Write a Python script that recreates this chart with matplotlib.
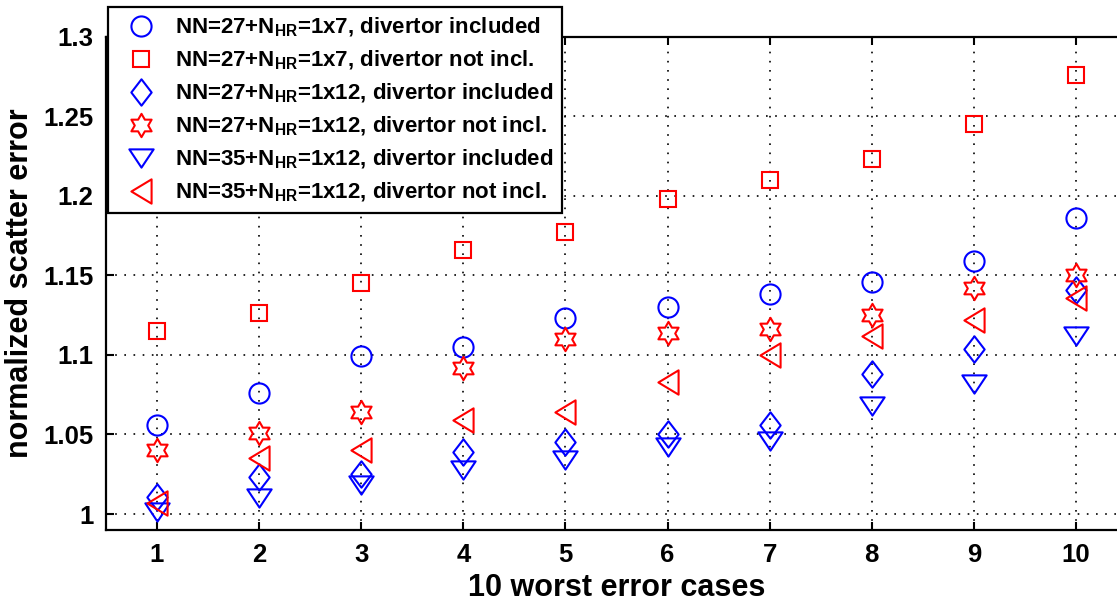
import numpy as np
import matplotlib
matplotlib.use("Agg")
import matplotlib.pyplot as plt
from matplotlib.path import Path

plt.rcParams['font.family'] = ['Liberation Sans', 'DejaVu Sans']
plt.rcParams['font.weight'] = 'bold'
plt.rcParams['mathtext.default'] = 'regular'

# ---- data -------------------------------------------------------------
cases = [1, 2, 3, 4, 5, 6, 7, 8, 9, 10]

nn27_1x7_div = [1.056, 1.076, 1.099, 1.105, 1.123, 1.130, 1.138, 1.146, 1.159, 1.186]
nn27_1x7_nodiv = [1.115, 1.126, 1.145, 1.166, 1.177, 1.198, 1.210, 1.223, 1.245, 1.276]
nn27_1x12_div = [1.011, 1.023, 1.025, 1.039, 1.045, 1.050, 1.056, 1.088, 1.104, 1.141]
nn27_1x12_nodiv = [1.040, 1.051, 1.064, 1.092, 1.110, 1.114, 1.116, 1.125, 1.142, 1.150]
nn35_1x12_div = [1.001, 1.010, 1.018, 1.028, 1.034, 1.042, 1.046, 1.068, 1.082, 1.112]
nn35_1x12_nodiv = [1.007, 1.035, 1.040, 1.059, 1.064, 1.083, 1.100, 1.112, 1.122, 1.136]

labels = [
    r'NN=27+N$_{HR}$=1x7, divertor included',
    r'NN=27+N$_{HR}$=1x7, divertor not incl.',
    r'NN=27+N$_{HR}$=1x12, divertor included',
    r'NN=27+N$_{HR}$=1x12, divertor not incl.',
    r'NN=35+N$_{HR}$=1x12, divertor included',
    r'NN=35+N$_{HR}$=1x12, divertor not incl.',
]

yticks = [1.0, 1.05, 1.1, 1.15, 1.2, 1.25, 1.3]
ytick_labels = ['1', '1.05', '1.1', '1.15', '1.2', '1.25', '1.3']

# ---- marker shapes ----------------------------------------------------
diamond = Path([(0, 1), (0.77, 0), (0, -1), (-0.77, 0), (0, 1)],
               [Path.MOVETO, Path.LINETO, Path.LINETO, Path.LINETO, Path.CLOSEPOLY])
ang = np.deg2rad(90 + 30 * np.arange(12))
rad = np.where(np.arange(12) % 2 == 0, 1.0, 1 / np.sqrt(3))
star_v = np.column_stack([rad * np.cos(ang), rad * np.sin(ang)])
star_v = np.vstack([star_v, star_v[:1]])
hexagram = Path(star_v, [Path.MOVETO] + [Path.LINETO] * 11 + [Path.CLOSEPOLY])
tri_down = Path([(0, -0.75), (1, 0.75), (-1, 0.75), (0, -0.75)],
                [Path.MOVETO, Path.LINETO, Path.LINETO, Path.CLOSEPOLY])
tri_left = Path([(-0.83, 0), (0.83, 1), (0.83, -1), (-0.83, 0)],
                [Path.MOVETO, Path.LINETO, Path.LINETO, Path.CLOSEPOLY])

series = [
    (nn27_1x7_div, 'o', 14.5, 'blue'),
    (nn27_1x7_nodiv, 's', 11.5, 'red'),
    (nn27_1x12_div, diamond, 19.0, 'blue'),
    (nn27_1x12_nodiv, hexagram, 16.8, 'red'),
    (nn35_1x12_div, tri_down, 17.5, 'blue'),
    (nn35_1x12_nodiv, tri_left, 17.5, 'red'),
]

# ---- figure -----------------------------------------------------------
W, H = 1117, 604
fig = plt.figure(figsize=(W / 100, H / 100), dpi=100)
ax = fig.add_axes([106 / W, (H - 530) / H, (1127 - 106) / W, (530 - 36.5) / H])

for (vals, mk, ms, col), lab in zip(series, labels):
    ax.plot(cases, vals, linestyle='none', marker=mk, markersize=ms,
            markerfacecolor='none', markeredgecolor=col, markeredgewidth=1.5,
            label=lab)

ax.set_xlim(0.5, 10.5)
ax.set_ylim(0.99, 1.3)
ax.set_xticks(cases)
ax.set_xticklabels([str(c) for c in cases])
ax.set_yticks(yticks)
ax.set_yticklabels(ytick_labels)

ax.grid(True, color='black', linestyle=(0, (1, 4.5)), linewidth=1.2)
ax.set_axisbelow(True)
for sp in ax.spines.values():
    sp.set_linewidth(1.6)
ax.tick_params(direction='in', length=6, width=1.5, top=True, right=True,
               labelsize=18.5, pad=9)

ax.set_xlabel('10 worst error cases', fontsize=22, fontweight='bold', labelpad=5)
ax.set_ylabel('normalized scatter error', fontsize=22, fontweight='bold', labelpad=6)

leg = fig.legend(loc='upper left', bbox_to_anchor=(108 / W, 1 - 7 / H),
                 fontsize=16, frameon=True, fancybox=False, framealpha=1,
                 edgecolor='black', borderpad=0.4, borderaxespad=0,
                 handlelength=2.2, handletextpad=0.4, labelspacing=0.44,
                 numpoints=1)
leg.get_frame().set_linewidth(1.6)
for t in leg.get_texts():
    t.set_fontweight('bold')

fig.savefig('out.png', dpi=100)
